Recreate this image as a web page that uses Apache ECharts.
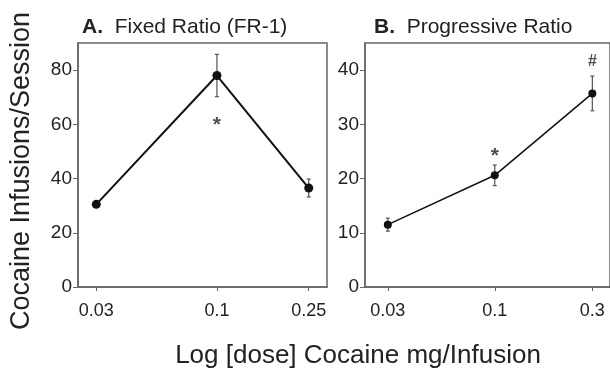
<!DOCTYPE html>
<html>
<head>
<meta charset="utf-8">
<script src="https://cdn.jsdelivr.net/npm/echarts@6/dist/echarts.min.js"></script>
<style>
  html, body { margin: 0; padding: 0; background: #fff; }
  #chart { width: 610px; height: 370px; }
</style>
</head>
<body>
<div id="chart"></div>
<script>
// panel A: fixed ratio
var doseA = [0.03, 0.1, 0.25];
var infusionsA = [30.5, 78, 36.5];
var errA = [1, 7.8, 3.3];
var yTicksA = [0, 20, 40, 60, 80];
var noteDoseA = [0.1];
var noteYA = [61.5];
var noteTextA = ["*"];

// panel B: progressive ratio
var doseB = [0.03, 0.1, 0.3];
var infusionsB = [11.5, 20.6, 35.7];
var errB = [1.2, 1.9, 3.2];
var yTicksB = [0, 10, 20, 30, 40];
var noteDoseB = [0.1, 0.3];
var noteYB = [25, 41.5];
var noteTextB = ["*", "#"];

var font = "Liberation Sans, Arial, Helvetica, sans-serif";
var frame = "#666";

function lg(v) { return Math.log10(v); }

function doseLabel(doses) {
  return function (v) {
    for (var i = 0; i < doses.length; i++) {
      if (Math.abs(lg(doses[i]) - v) < 1e-6) return String(doses[i]);
    }
    return "";
  };
}

function xAxisFor(idx, doses, min, max) {
  return {
    type: "value",
    gridIndex: idx,
    min: lg(min),
    max: lg(max),
    splitLine: { show: false },
    axisLine: { lineStyle: { color: frame, width: 1.5 } },
    axisTick: { customValues: doses.map(lg), length: 4, lineStyle: { color: frame } },
    axisLabel: {
      customValues: doses.map(lg),
      formatter: doseLabel(doses),
      margin: 15,
      fontSize: 18,
      color: "#222",
      fontFamily: font
    }
  };
}

function yAxisFor(idx, ticks, max) {
  return {
    type: "value",
    gridIndex: idx,
    min: 0,
    max: max,
    splitLine: { show: false },
    axisLine: { show: true, lineStyle: { color: frame, width: 1.5 } },
    axisTick: { show: true, customValues: ticks, length: 5, lineStyle: { color: frame } },
    axisLabel: { customValues: ticks, margin: 6, fontSize: 19, color: "#222", fontFamily: font }
  };
}

function errSeries(idx, doses, vals, errs) {
  return {
    type: "custom",
    xAxisIndex: idx,
    yAxisIndex: idx,
    z: 1,
    data: doses.map(function (d, i) { return [lg(d), vals[i] - errs[i], vals[i] + errs[i]]; }),
    renderItem: function (params, api) {
      var top = api.coord([api.value(0), api.value(2)]);
      var bot = api.coord([api.value(0), api.value(1)]);
      var st = { stroke: "#555", lineWidth: 1.2 };
      return {
        type: "group",
        children: [
          { type: "line", shape: { x1: top[0], y1: top[1], x2: bot[0], y2: bot[1] }, style: st },
          { type: "line", shape: { x1: top[0] - 2, y1: top[1], x2: top[0] + 2, y2: top[1] }, style: st },
          { type: "line", shape: { x1: bot[0] - 2, y1: bot[1], x2: bot[0] + 2, y2: bot[1] }, style: st }
        ]
      };
    }
  };
}

function lineSeries(idx, doses, vals, w, size) {
  return {
    type: "line",
    xAxisIndex: idx,
    yAxisIndex: idx,
    z: 3,
    data: doses.map(function (d, i) { return [lg(d), vals[i]]; }),
    symbol: "circle",
    symbolSize: size,
    itemStyle: { color: "#111" },
    lineStyle: { color: "#111", width: w }
  };
}

function noteSeries(idx, doses, ys, texts) {
  return {
    type: "scatter",
    xAxisIndex: idx,
    yAxisIndex: idx,
    symbolSize: 0,
    data: doses.map(function (d, i) {
      var star = texts[i] === "*";
      return {
        value: [lg(d), ys[i]],
        label: {
          formatter: texts[i],
          fontSize: star ? 21 : 16,
          offset: [0, star ? 5 : 0]
        }
      };
    }),
    label: {
      show: true,
      position: "inside",
      fontWeight: "bold",
      color: "#222",
      fontFamily: font
    }
  };
}

var chart = echarts.init(document.getElementById("chart"));
chart.setOption({
  backgroundColor: "#fff",
  animation: false,
  grid: [
    { left: 78, top: 43, width: 249, height: 244, show: true, borderColor: frame, borderWidth: 1.5 },
    { left: 365, top: 43, width: 247, height: 244, show: true, borderColor: frame, borderWidth: 1.5 }
  ],
  xAxis: [
    xAxisFor(0, doseA, 0.025, 0.3),
    xAxisFor(1, doseB, 0.0232, 0.366)
  ],
  yAxis: [
    yAxisFor(0, yTicksA, 90),
    yAxisFor(1, yTicksB, 45)
  ],
  graphic: [
    {
      type: "text", x: 82, y: 27,
      style: {
        text: "{b|A.}  Fixed Ratio (FR-1)",
        verticalAlign: "middle",
        fontSize: 21, fill: "#222", fontFamily: font,
        rich: { b: { fontWeight: "bold", fontSize: 21, fontFamily: font } }
      }
    },
    {
      type: "text", x: 374, y: 27,
      style: {
        text: "{b|B.}  Progressive Ratio",
        verticalAlign: "middle",
        fontSize: 21, fill: "#222", fontFamily: font,
        rich: { b: { fontWeight: "bold", fontSize: 21, fontFamily: font } }
      }
    },
    {
      type: "text", x: 22, y: 171, rotation: Math.PI / 2,
      style: {
        text: "Cocaine Infusions/Session",
        align: "center", verticalAlign: "middle",
        fontSize: 27, fill: "#222", fontFamily: font
      }
    },
    {
      type: "text", x: 358, y: 356,
      style: {
        text: "Log [dose] Cocaine mg/Infusion",
        align: "center", verticalAlign: "middle",
        fontSize: 26, fill: "#222", fontFamily: font
      }
    }
  ],
  series: [
    errSeries(0, doseA, infusionsA, errA),
    lineSeries(0, doseA, infusionsA, 2, 9),
    noteSeries(0, noteDoseA, noteYA, noteTextA),
    errSeries(1, doseB, infusionsB, errB),
    lineSeries(1, doseB, infusionsB, 1.5, 8),
    noteSeries(1, noteDoseB, noteYB, noteTextB)
  ]
});
</script>
</body>
</html>
